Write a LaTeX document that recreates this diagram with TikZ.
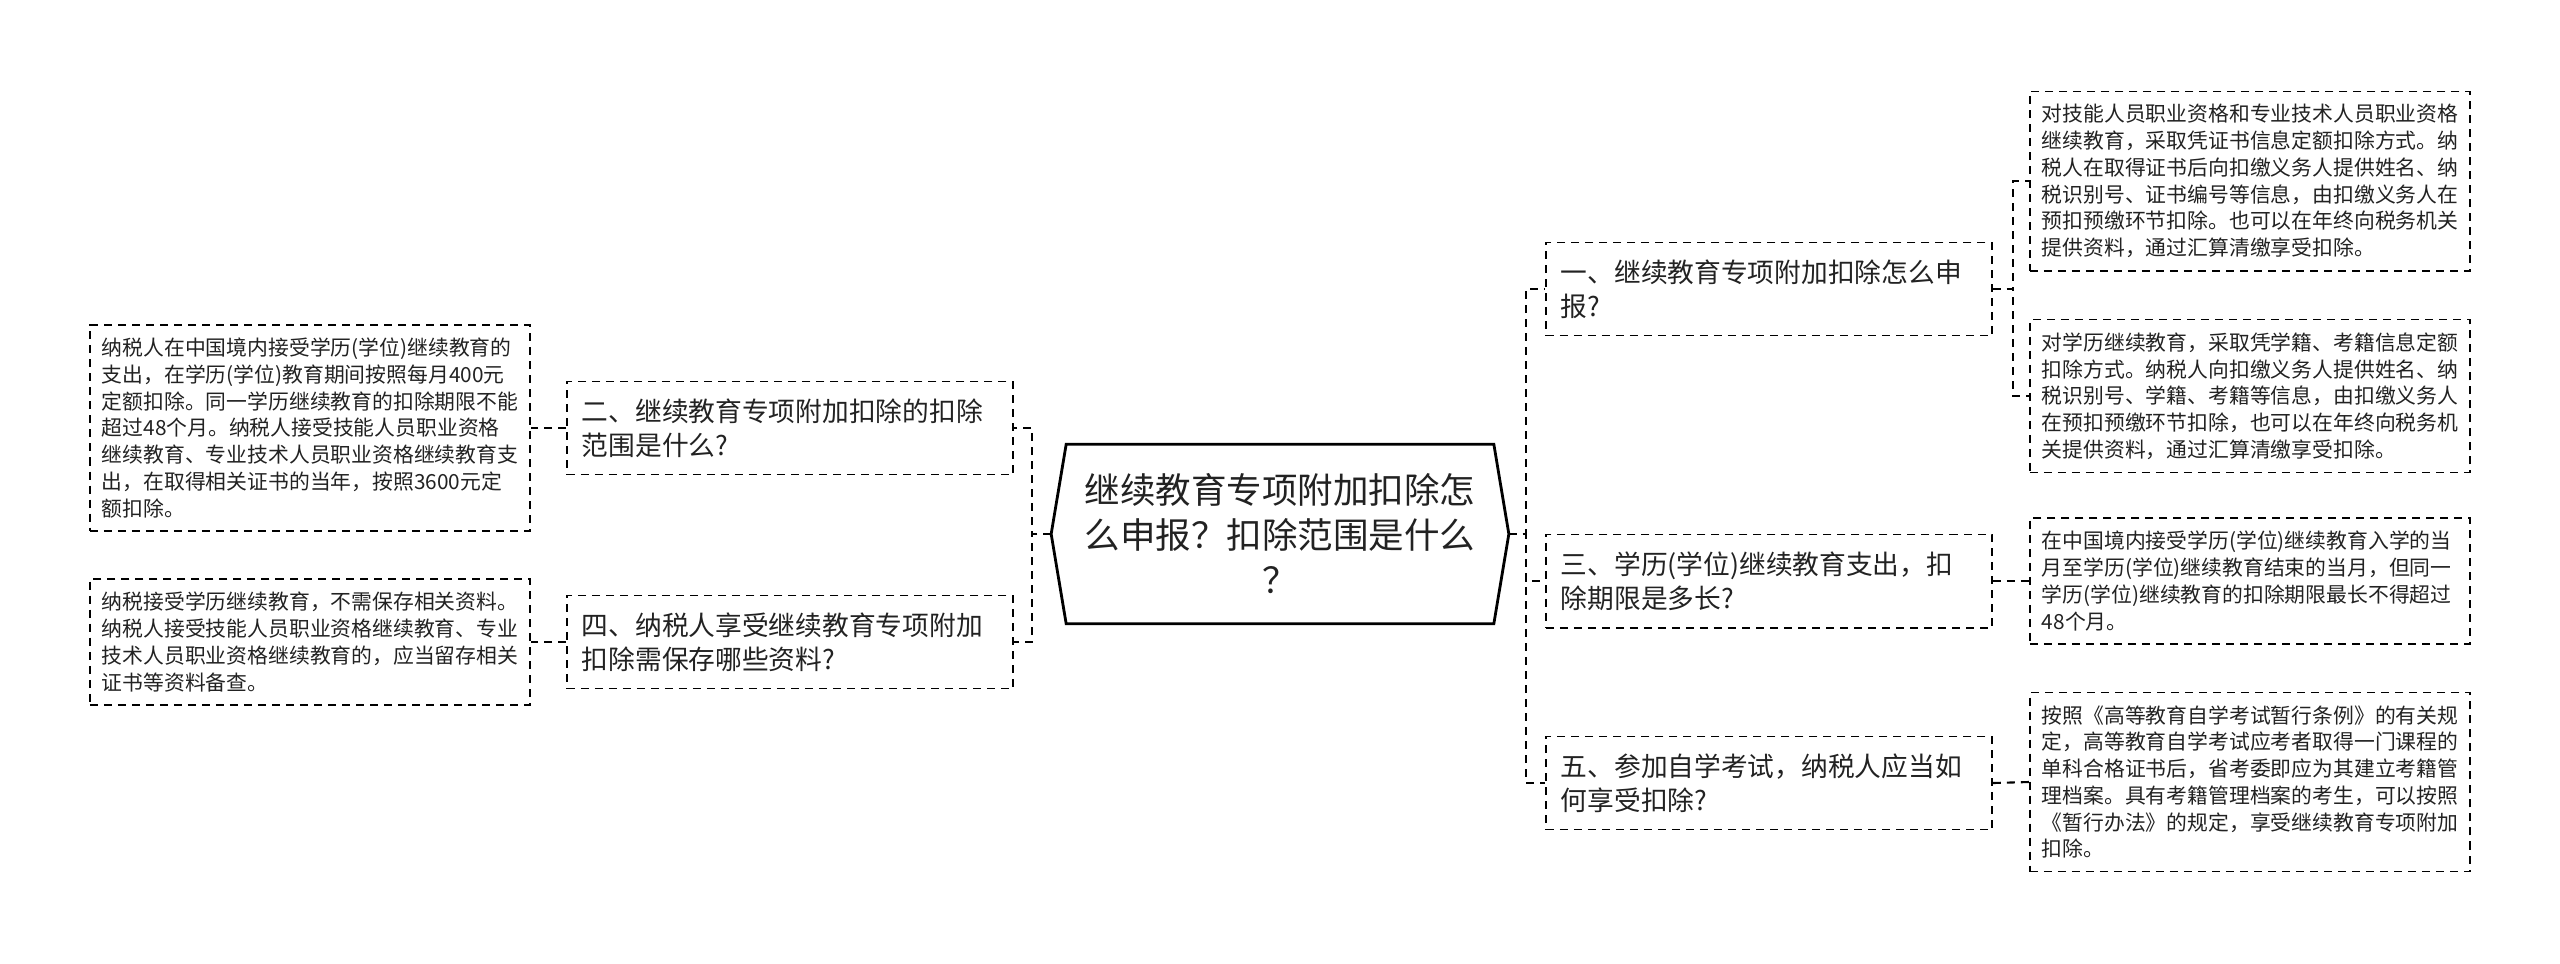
\documentclass[tikz,border=0pt]{standalone}
\usepackage{fontspec}
\setmainfont{Noto Sans CJK SC}
\definecolor{txt}{HTML}{222222}
\tikzset{
  leaf/.style={draw, dash pattern=on 0.08cm off 0.06cm, line width=0.45pt, text width=4.16cm,
    inner xsep=0.12cm, inner ysep=0.13cm, align=left, text=txt,
    font=\fontsize{5.92pt}{7.6pt}\selectfont},
  branch/.style={draw, dash pattern=on 0.08cm off 0.06cm, line width=0.45pt, text width=4.16cm,
    inner xsep=0.15cm, inner ysep=0.17cm, align=left, text=txt,
    font=\fontsize{7.6pt}{9.8pt}\selectfont},
  rootbox/.style={text width=4.0cm, inner xsep=0.13cm, minimum height=1.78cm, align=center,
    text=txt, font=\fontsize{10.1pt}{12.8pt}\selectfont},
  link/.style={dash pattern=on 0.08cm off 0.06cm, line width=0.6pt},
}
\begin{document}
\begin{tikzpicture}[x=0.01cm, y=-0.01cm]
\useasboundingbox (0,0) rectangle (2560,963);
% root
\node[rootbox] (root) at (1280,534) {继续教育专项附加扣除怎\\么申报？扣除范围是什么\\？};
\draw[line width=0.8pt] (root.north west) -- (root.north east) -- ([xshift=0.15cm]root.east) coordinate (rootR)
  -- (root.south east) -- (root.south west) -- ([xshift=-0.15cm]root.west) coordinate (rootL) -- cycle;
% left branches
\node[branch] (b2) at (790,428) {二、继续教育专项附加扣除的扣除\\范围是什么?};
\node[branch] (b4) at (790,642) {四、纳税人享受继续教育专项附加\\扣除需保存哪些资料?};
% left leaves
\node[leaf] (l2) at (310,428) {纳税人在中国境内接受学历(学位)继续教育的\\支出，在学历(学位)教育期间按照每月400元\\定额扣除。同一学历继续教育的扣除期限不能\\超过48个月。纳税人接受技能人员职业资格\\继续教育、专业技术人员职业资格继续教育支\\出，在取得相关证书的当年，按照3600元定\\额扣除。};
\node[leaf] (l4) at (310,642) {纳税接受学历继续教育，不需保存相关资料。\\纳税人接受技能人员职业资格继续教育、专业\\技术人员职业资格继续教育的，应当留存相关\\证书等资料备查。};
% right branches
\node[branch] (b1) at (1769,289) {一、继续教育专项附加扣除怎么申\\报?};
\node[branch] (b3) at (1769,581) {三、学历(学位)继续教育支出，扣\\除期限是多长?};
\node[branch] (b5) at (1769,783) {五、参加自学考试，纳税人应当如\\何享受扣除?};
% right leaves
\node[leaf] (r1a) at (2250,181) {对技能人员职业资格和专业技术人员职业资格\\继续教育，采取凭证书信息定额扣除方式。纳\\税人在取得证书后向扣缴义务人提供姓名、纳\\税识别号、证书编号等信息，由扣缴义务人在\\预扣预缴环节扣除。也可以在年终向税务机关\\提供资料，通过汇算清缴享受扣除。};
\node[leaf] (r1b) at (2250,396) {对学历继续教育，采取凭学籍、考籍信息定额\\扣除方式。纳税人向扣缴义务人提供姓名、纳\\税识别号、学籍、考籍等信息，由扣缴义务人\\在预扣预缴环节扣除，也可以在年终向税务机\\关提供资料，通过汇算清缴享受扣除。};
\node[leaf] (r3) at (2250,581) {在中国境内接受学历(学位)继续教育入学的当\\月至学历(学位)继续教育结束的当月，但同一\\学历(学位)继续教育的扣除期限最长不得超过\\48个月。};
\node[leaf] (r5) at (2250,782) {按照《高等教育自学考试暂行条例》的有关规\\定，高等教育自学考试应考者取得一门课程的\\单科合格证书后，省考委即应为其建立考籍管\\理档案。具有考籍管理档案的考生，可以按照\\《暂行办法》的规定，享受继续教育专项附加\\扣除。};
% links root to branches
\draw[link] (rootL) -- ++(-19,0) |- (b2.east);
\draw[link] (rootL) -- ++(-19,0) |- (b4.east);
\draw[link] (rootR) -- ++(17,0) |- (b1.west);
\draw[link] (rootR) -- ++(17,0) |- (b3.west);
\draw[link] (rootR) -- ++(17,0) |- (b5.west);
% links branches to leaves
\draw[link] (b2.west) -- (l2.east);
\draw[link] (b4.west) -- (l4.east);
\draw[link] (b1.east) -- ++(20,0) |- (r1a.west);
\draw[link] (b1.east) -- ++(20,0) |- (r1b.west);
\draw[link] (b3.east) -- (r3.west);
\draw[link] (b5.east) -- (r5.west);
\end{tikzpicture}
\end{document}
